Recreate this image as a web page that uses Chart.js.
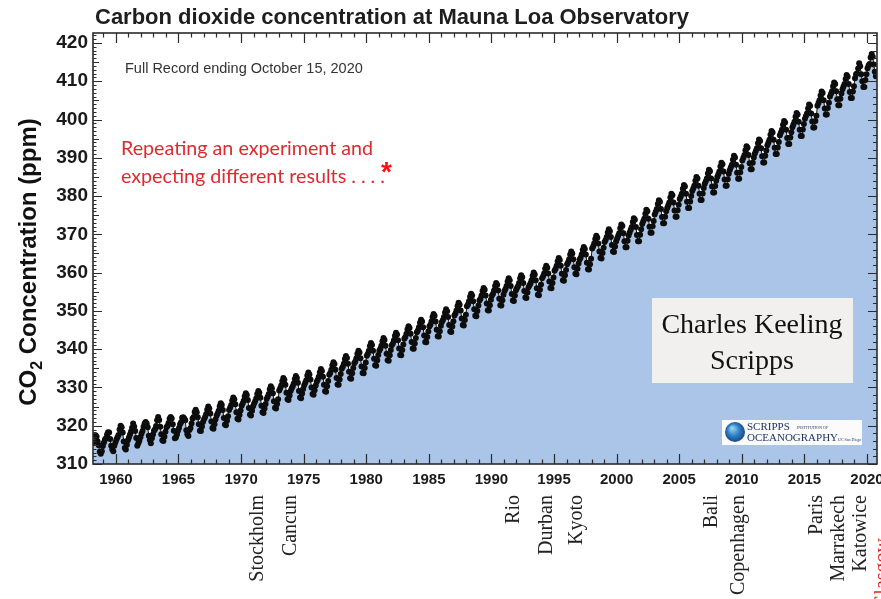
<!DOCTYPE html>
<html>
<head>
<meta charset="utf-8">
<script src="https://cdn.jsdelivr.net/npm/chart.js@4"></script>
<style>
html,body{margin:0;padding:0;background:#fff;}
#wrap{width:881px;height:599px;position:relative;}
</style>
</head>
<body>
<div id="wrap"><canvas id="c" width="881" height="599"></canvas></div>
<script>
// ---- Data: Mauna Loa monthly CO2 (ppm) ----
const firstMonth = { year: 1958, month: 3 }; // March 1958
const co2_1958_1969 = [
  315.7, 317.5, 317.5, 317.1, 315.9, 314.9, 313.2, 312.7, 313.3, 314.7,
  315.6, 316.4, 316.7, 317.7, 318.3, 318.2, 316.5, 314.8, 313.8, 313.3, 314.8, 315.6,
  316.4, 317.0, 317.6, 319.0, 320.0, 319.6, 318.2, 315.9, 314.2, 313.8, 315.0, 316.2,
  316.9, 317.7, 318.5, 319.5, 320.6, 319.8, 318.6, 316.8, 314.8, 315.4, 316.1, 317.0,
  317.9, 318.6, 319.7, 320.6, 321.0, 320.6, 319.6, 317.4, 316.3, 315.4, 316.7, 317.7,
  318.7, 319.1, 319.9, 321.4, 322.3, 321.5, 319.7, 317.8, 316.2, 316.0, 317.1, 318.4,
  319.6, 320.0, 320.7, 321.8, 322.3, 321.9, 320.4, 318.7, 316.7, 316.9, 317.7, 318.7,
  319.4, 320.4, 320.9, 322.1, 322.2, 321.9, 321.4, 318.8, 317.8, 317.3, 318.9, 319.4,
  320.6, 321.9, 322.3, 323.6, 324.2, 323.5, 322.2, 320.4, 318.7, 318.6, 319.8, 321.0,
  321.7, 322.3, 323.0, 324.2, 325.0, 324.5, 323.2, 321.1, 319.4, 319.2, 320.4, 321.6,
  322.6, 323.2, 323.9, 325.1, 325.9, 325.4, 324.1, 322.0, 320.3, 320.1, 321.3, 322.5,
  324.1, 324.7, 325.4, 326.6, 327.4, 326.9, 325.6, 323.5, 321.8, 321.6, 322.8, 324.0
];
const co2_1970s = [
  325.2, 325.8, 326.5, 327.7, 328.5, 328.0, 326.7, 324.6, 322.9, 322.7, 323.9, 325.1,
  325.8, 326.4, 327.1, 328.3, 329.1, 328.6, 327.3, 325.2, 323.5, 323.3, 324.5, 325.7,
  327.0, 327.6, 328.3, 329.5, 330.3, 329.8, 328.5, 326.4, 324.7, 324.5, 325.7, 326.9,
  329.2, 329.8, 330.5, 331.7, 332.5, 332.0, 330.7, 328.6, 326.9, 326.7, 327.9, 329.1,
  329.7, 330.3, 331.0, 332.2, 333.0, 332.5, 331.2, 329.1, 327.4, 327.2, 328.4, 329.6,
  330.6, 331.2, 331.9, 333.1, 333.9, 333.4, 332.1, 330.0, 328.3, 328.1, 329.3, 330.5,
  331.5, 332.0, 332.8, 334.0, 334.8, 334.3, 332.8, 330.7, 329.0, 328.9, 330.3, 331.7,
  333.3, 333.8, 334.6, 335.8, 336.6, 336.1, 334.6, 332.5, 330.8, 330.7, 332.1, 333.5,
  334.9, 335.4, 336.2, 337.4, 338.2, 337.7, 336.2, 334.1, 332.4, 332.3, 333.7, 335.1,
  336.3, 336.8, 337.6, 338.8, 339.6, 339.1, 337.6, 335.5, 333.8, 333.7, 335.1, 336.5
];
const co2_1980s = [
  338.3, 338.8, 339.6, 340.8, 341.6, 341.1, 339.6, 337.5, 335.8, 335.7, 337.1, 338.5,
  339.6, 340.1, 340.9, 342.1, 342.9, 342.4, 340.9, 338.8, 337.1, 337.0, 338.4, 339.8,
  341.0, 341.5, 342.3, 343.5, 344.3, 343.8, 342.3, 340.2, 338.5, 338.4, 339.8, 341.2,
  342.7, 343.2, 344.0, 345.2, 346.0, 345.5, 344.0, 341.9, 340.2, 340.1, 341.5, 342.9,
  344.4, 344.9, 345.7, 346.9, 347.7, 347.2, 345.7, 343.6, 341.9, 341.8, 343.2, 344.6,
  345.9, 346.4, 347.2, 348.4, 349.2, 348.7, 347.2, 345.1, 343.4, 343.3, 344.7, 346.1,
  347.1, 347.6, 348.4, 349.6, 350.4, 349.9, 348.4, 346.3, 344.6, 344.5, 345.9, 347.3,
  348.8, 349.3, 350.1, 351.3, 352.1, 351.6, 350.1, 348.0, 346.3, 346.2, 347.6, 349.0,
  351.2, 351.7, 352.5, 353.7, 354.5, 354.0, 352.5, 350.4, 348.7, 348.6, 350.0, 351.4,
  352.7, 353.2, 354.0, 355.2, 356.0, 355.5, 354.0, 351.9, 350.2, 350.1, 351.5, 352.9
];
const co2_1990s = [
  354.0, 354.5, 355.3, 356.5, 357.3, 356.8, 355.3, 353.2, 351.5, 351.4, 352.8, 354.2,
  355.2, 355.7, 356.5, 357.7, 358.5, 358.0, 356.5, 354.4, 352.7, 352.6, 354.0, 355.4,
  356.0, 356.5, 357.3, 358.5, 359.3, 358.8, 357.3, 355.2, 353.5, 353.4, 354.8, 356.2,
  356.7, 357.2, 358.0, 359.2, 360.0, 359.5, 358.0, 355.9, 354.2, 354.1, 355.5, 356.9,
  358.5, 359.0, 359.8, 361.0, 361.8, 361.3, 359.8, 357.7, 356.0, 355.9, 357.3, 358.7,
  360.5, 361.0, 361.8, 363.0, 363.8, 363.3, 361.8, 359.7, 358.0, 357.9, 359.3, 360.7,
  362.2, 362.7, 363.5, 364.7, 365.5, 365.0, 363.5, 361.4, 359.7, 359.6, 361.0, 362.4,
  363.4, 363.9, 364.7, 365.9, 366.7, 366.2, 364.7, 362.6, 360.9, 360.8, 362.2, 363.6,
  366.3, 366.8, 367.6, 368.8, 369.6, 369.1, 367.6, 365.5, 363.8, 363.7, 365.1, 366.5,
  368.0, 368.5, 369.3, 370.5, 371.3, 370.8, 369.3, 367.2, 365.5, 365.4, 366.8, 368.2
];
const co2_2000s = [
  368.9, 369.6, 370.3, 371.6, 372.6, 372.2, 370.3, 368.2, 366.6, 366.6, 368.3, 369.7,
  370.5, 371.2, 371.9, 373.2, 374.2, 373.8, 371.9, 369.8, 368.2, 368.2, 369.9, 371.3,
  372.7, 373.4, 374.1, 375.4, 376.4, 376.0, 374.1, 372.0, 370.4, 370.4, 372.1, 373.5,
  375.2, 375.9, 376.6, 377.9, 378.9, 378.5, 376.6, 374.5, 372.9, 372.9, 374.6, 376.0,
  376.9, 377.6, 378.3, 379.6, 380.6, 380.2, 378.3, 376.2, 374.6, 374.6, 376.3, 377.7,
  379.2, 379.9, 380.6, 381.9, 382.9, 382.5, 380.6, 378.5, 376.9, 376.9, 378.6, 380.0,
  381.3, 382.0, 382.7, 384.0, 385.0, 384.6, 382.7, 380.6, 379.0, 379.0, 380.7, 382.1,
  383.2, 383.9, 384.6, 385.9, 386.9, 386.5, 384.6, 382.5, 380.9, 380.9, 382.6, 384.0,
  385.0, 385.7, 386.4, 387.7, 388.7, 388.3, 386.4, 384.3, 382.7, 382.7, 384.4, 385.8,
  386.8, 387.5, 388.2, 389.5, 390.5, 390.1, 388.2, 386.1, 384.5, 384.5, 386.2, 387.6
];
const co2_2010s = [
  389.3, 390.0, 390.7, 392.0, 393.0, 392.6, 390.7, 388.6, 387.0, 387.0, 388.7, 390.1,
  391.1, 391.8, 392.5, 393.8, 394.8, 394.4, 392.5, 390.4, 388.8, 388.8, 390.5, 391.9,
  393.3, 394.0, 394.7, 396.0, 397.0, 396.6, 394.7, 392.6, 391.0, 391.0, 392.7, 394.1,
  395.9, 396.6, 397.3, 398.6, 399.6, 399.2, 397.3, 395.2, 393.6, 393.6, 395.3, 396.7,
  398.0, 398.7, 399.4, 400.7, 401.7, 401.3, 399.4, 397.3, 395.7, 395.7, 397.4, 398.8,
  400.2, 400.9, 401.6, 402.9, 403.9, 403.5, 401.6, 399.5, 397.9, 397.9, 399.6, 401.0,
  403.6, 404.3, 405.0, 406.3, 407.3, 406.9, 405.0, 402.9, 401.3, 401.3, 403.0, 404.4,
  406.0, 406.7, 407.4, 408.7, 409.7, 409.3, 407.4, 405.3, 403.7, 403.7, 405.4, 406.8,
  407.9, 408.6, 409.3, 410.6, 411.6, 411.2, 409.3, 407.2, 405.6, 405.6, 407.3, 408.7,
  410.8, 411.8, 412.0, 413.3, 414.7, 413.9, 411.8, 410.0, 408.5, 408.5, 410.3, 411.8
];
const co2_2020 = [413.4, 414.1, 414.5, 416.2, 417.1, 416.4, 414.4, 412.5, 411.3, 411.5];

const xTickYears = [1960, 1965, 1970, 1975, 1980, 1985, 1990, 1995, 2000, 2005, 2010, 2015, 2020];
const yTickValues = [310, 320, 330, 340, 350, 360, 370, 380, 390, 400, 410, 420];

const summitNames = ['Stockholm', 'Cancun', 'Rio', 'Durban', 'Kyoto', 'Bali', 'Copenhagen', 'Paris', 'Marrakech', 'Katowice', 'Glasgow'];
const summitYears = [1971.3, 1974.0, 1991.75, 1994.45, 1996.85, 2007.6, 2009.75, 2016.0, 2017.75, 2019.5, 2021.25];

// ---- build table ----
const allValues = [].concat(co2_1958_1969, co2_1970s, co2_1980s, co2_1990s, co2_2000s, co2_2010s, co2_2020);
const points = allValues.map((v, i) => {
  const m = firstMonth.month - 1 + i;
  return { x: firstMonth.year + (m + 0.5) / 12, y: v };
});

const SANS = '"Liberation Sans", Arial, sans-serif';
const SERIF = '"Liberation Serif", "Times New Roman", serif';

const frameTicks = {
  id: 'frameTicks',
  afterDatasetsDraw(chart) {
    const { ctx, chartArea: a, scales: { x, y } } = chart;
    ctx.save();
    ctx.strokeStyle = '#2b2b2b';
    ctx.lineWidth = 1.2;
    ctx.beginPath();
    for (let yr = Math.ceil(x.min); yr <= x.max; yr++) {
      const px = Math.round(x.getPixelForValue(yr)) + 0.5;
      const len = yr % 5 === 0 ? 10 : 4.5;
      ctx.moveTo(px, a.bottom); ctx.lineTo(px, a.bottom - len);
      ctx.moveTo(px, a.top); ctx.lineTo(px, a.top + len);
    }
    for (let v = Math.ceil(y.min); v <= y.max; v++) {
      const py = Math.round(y.getPixelForValue(v)) + 0.5;
      const lenL = v % 10 === 0 ? 9 : (v % 5 === 0 ? 6 : 3.5);
      ctx.moveTo(a.left, py); ctx.lineTo(a.left + lenL, py);
      if (v % 2 === 0) {
        const lenR = v % 10 === 0 ? 9 : 4;
        ctx.moveTo(a.right, py); ctx.lineTo(a.right - lenR, py);
      }
    }
    ctx.stroke();
    ctx.lineWidth = 1.6;
    ctx.strokeRect(a.left, a.top, a.right - a.left, a.bottom - a.top);
    ctx.restore();
  }
};

const annotations = {
  id: 'annotations',
  afterDraw(chart) {
    const { ctx, scales: { x } } = chart;
    ctx.save();
    // Title
    ctx.fillStyle = '#1e1e1e';
    ctx.font = 'bold 22px ' + SANS;
    ctx.textAlign = 'left';
    ctx.textBaseline = 'alphabetic';
    ctx.fillText('Carbon dioxide concentration at Mauna Loa Observatory', 95, 24);

    // Sub note
    ctx.fillStyle = '#333';
    ctx.font = '14.5px ' + SANS;
    ctx.fillText('Full Record ending October 15, 2020', 125, 73);

    // Red quote
    ctx.fillStyle = '#dc2a30';
    ctx.font = '19.7px Lato, "Open Sans", sans-serif';
    ctx.fillText('Repeating an experiment and', 121, 155);
    ctx.fillText('expecting different results . . . .', 121, 183);
    ctx.fillStyle = '#ff1010';
    ctx.font = 'bold 28px ' + SANS;
    ctx.fillText('*', 381, 181);

    // Charles Keeling box
    ctx.fillStyle = '#f1f0ee';
    ctx.fillRect(652, 298, 201, 85);
    ctx.fillStyle = '#111';
    ctx.font = '28px ' + SERIF;
    ctx.textAlign = 'center';
    ctx.fillText('Charles Keeling', 752, 333);
    ctx.fillText('Scripps', 752, 369);

    // Scripps logo
    ctx.fillStyle = '#fbfbfb';
    ctx.fillRect(722, 420, 140, 25);
    const g = ctx.createRadialGradient(732, 428, 1, 735, 432, 11);
    g.addColorStop(0, '#8fd0f0');
    g.addColorStop(0.5, '#2f7fc4');
    g.addColorStop(1, '#16407f');
    ctx.fillStyle = g;
    ctx.beginPath(); ctx.arc(735, 432, 10, 0, Math.PI * 2); ctx.fill();
    ctx.fillStyle = '#1f3565';
    ctx.textAlign = 'left';
    ctx.font = '11px ' + SERIF;
    ctx.fillText('SCRIPPS', 747, 430);
    ctx.fillText('OCEANOGRAPHY', 747, 441);
    ctx.font = '4px ' + SERIF;
    ctx.fillText('INSTITUTION OF', 797, 429);
    ctx.fillText('UC San Diego', 838, 441);

    // Y-axis title with subscript
    ctx.translate(36, 262);
    ctx.rotate(-Math.PI / 2);
    ctx.fillStyle = '#111';
    const big = 'bold 24px ' + SANS, small = 'bold 16px ' + SANS;
    ctx.font = big; const w1 = ctx.measureText('CO').width;
    const w3 = ctx.measureText(' Concentration (ppm)').width;
    ctx.font = small; const w2 = ctx.measureText('2').width;
    let sx = -(w1 + w2 + w3) / 2;
    ctx.textAlign = 'left';
    ctx.font = big; ctx.fillText('CO', sx, 0); sx += w1;
    ctx.font = small; ctx.fillText('2', sx, 6); sx += w2;
    ctx.font = big; ctx.fillText(' Concentration (ppm)', sx, 0);
    ctx.setTransform(1, 0, 0, 1, 0, 0);

    // Summit labels under the axis
    ctx.font = '20px ' + SERIF;
    summitNames.forEach((name, i) => {
      const px = x.getPixelForValue(summitYears[i]);
      const last = name === 'Glasgow';
      ctx.save();
      ctx.translate(px, last ? 538 : 495);
      ctx.rotate(-Math.PI / 2);
      ctx.fillStyle = last ? '#e02525' : '#222';
      ctx.textAlign = 'right';
      ctx.textBaseline = 'middle';
      ctx.fillText(name, 0, 0);
      ctx.restore();
    });
    ctx.restore();
  }
};

new Chart(document.getElementById('c'), {
  type: 'scatter',
  data: {
    datasets: [{
      data: points,
      showLine: true,
      fill: 'start',
      backgroundColor: '#aac5e7',
      borderColor: '#111',
      borderWidth: 1,
      pointRadius: 3,
      pointBackgroundColor: '#0d0d0d',
      pointBorderWidth: 0,
      tension: 0
    }]
  },
  options: {
    responsive: false,
    devicePixelRatio: 1,
    animation: false,
    layout: { padding: { top: 33, right: 3, left: 0, bottom: 0 } },
    plugins: { legend: { display: false }, tooltip: { enabled: false }, title: { display: false } },
    scales: {
      x: {
        type: 'linear',
        min: 1958.17,
        max: 2020.8,
        afterBuildTicks: s => { s.ticks = xTickYears.map(v => ({ value: v })); },
        afterFit: s => { s.height = 135; s.paddingLeft = 0; s.paddingRight = 0; },
        grid: { display: false, drawTicks: false },
        border: { display: false },
        ticks: {
          autoSkip: false, maxRotation: 0, padding: 7,
          color: '#1a1a1a',
          font: { family: SANS, size: 15, weight: 'bold' },
          callback: v => String(v)
        }
      },
      y: {
        type: 'linear',
        min: 310,
        max: 422.6,
        afterBuildTicks: s => { s.ticks = yTickValues.map(v => ({ value: v })); },
        afterFit: s => { s.width = 93; s.paddingTop = 0; s.paddingBottom = 0; },
        grid: { display: false, drawTicks: false },
        border: { display: false },
        ticks: {
          padding: 5,
          color: '#1a1a1a',
          font: { family: SANS, size: 19, weight: 'bold' },
          callback: v => String(v)
        }
      }
    }
  },
  plugins: [frameTicks, annotations]
});
</script>
</body>
</html>
